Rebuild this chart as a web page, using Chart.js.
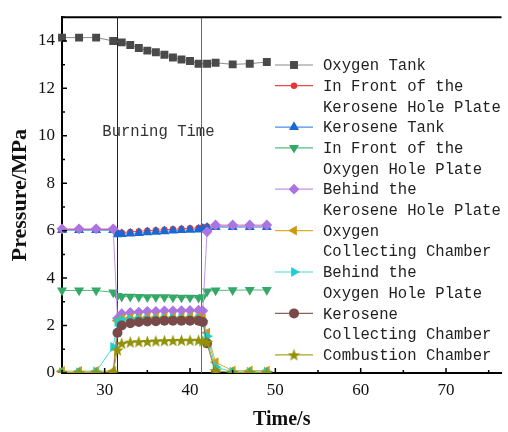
<!DOCTYPE html>
<html>
<head>
<meta charset="utf-8">
<script src="https://cdn.jsdelivr.net/npm/chart.js@4.4.1/dist/chart.umd.min.js"></script>
<style>
  html, body { margin: 0; padding: 0; background: #fff; }
  #wrap { width: 508px; height: 432px; }
</style>
</head>
<body>
<div id="wrap"><canvas id="chart" width="508" height="432"></canvas></div>
<script>
// Sample times (s); null = no sample for that series
const times = [25, 27, 29, 31, 31.5, 32, 33, 34, 35, 36, 37, 38, 39, 40, 41, 41.5, 42, 43, 45, 47, 49];

const oxygenTank      = [14.14, 14.14, 14.14, 14.0, null, 13.94, 13.83, 13.7, 13.59, 13.52, 13.42, 13.3, 13.22, 13.15, 13.04, null, 13.04, 13.08, 13.01, 13.04, 13.11];
const kerFrontPlate   = [6.05, 6.05, 6.05, 6.05, 5.92, 5.92, 5.95, 5.97, 6.0, 6.02, 6.04, 6.06, 6.08, 6.1, 6.12, 6.15, 6.18, 6.2, 6.2, 6.2, 6.2];
const keroseneTank    = [6.02, 6.02, 6.02, 6.02, 5.85, 5.86, 5.88, 5.9, 5.93, 5.95, 5.97, 6.0, 6.02, 6.03, 6.05, 6.08, 6.12, 6.15, 6.15, 6.15, 6.15];
const oxyFrontPlate   = [3.48, 3.48, 3.48, 3.4, 3.25, 3.22, 3.22, 3.21, 3.2, 3.2, 3.2, 3.19, 3.18, 3.18, 3.17, 3.2, 3.44, 3.48, 3.49, 3.5, 3.5];
const kerBehindPlate  = [6.08, 6.08, 6.08, 6.08, 2.3, 2.5, 2.55, 2.57, 2.6, 2.6, 2.62, 2.62, 2.63, 2.64, 2.65, 2.62, 5.95, 6.24, 6.24, 6.24, 6.24];
const oxyCollecting   = [0.08, 0.08, 0.08, 0.08, 2.2, 2.3, 2.33, 2.33, 2.35, 2.35, 2.35, 2.35, 2.35, 2.36, 2.36, 2.3, 1.7, 0.45, 0.1, 0.1, 0.1];
const oxyBehindPlate  = [0.03, 0.03, 0.06, 1.1, 2.15, 2.25, 2.27, 2.28, 2.28, 2.3, 2.3, 2.3, 2.3, 2.3, 2.3, 2.2, 1.55, 0.25, 0.05, 0.05, 0.05];
const kerCollecting   = [-0.15, -0.15, -0.15, -0.1, 1.7, 2.0, 2.1, 2.15, 2.17, 2.18, 2.2, 2.2, 2.2, 2.2, 2.2, 2.15, 1.25, 0.0, -0.15, -0.15, -0.15];
const combustion      = [0.02, 0.02, 0.02, 0.05, 0.97, 1.25, 1.3, 1.32, 1.33, 1.35, 1.36, 1.37, 1.38, 1.38, 1.38, 1.35, 1.3, 0.1, 0.02, 0.02, 0.02];

const seriesLabels = [
  ['Oxygen Tank'],
  ['In Front of the', 'Kerosene Hole Plate'],
  ['Kerosene Tank'],
  ['In Front of the', 'Oxygen Hole Plate'],
  ['Behind the', 'Kerosene Hole Plate'],
  ['Oxygen', 'Collecting Chamber'],
  ['Behind the', 'Oxygen Hole Plate'],
  ['Kerosene', 'Collecting Chamber'],
  ['Combustion Chamber'],
];

const xTicks = [30, 40, 50, 60, 70];
const yTicks = [0, 2, 4, 6, 8, 10, 12, 14];
const burnStart = 31.5;
const burnEnd = 41.25;

// filled five-point star used as a point style
function starImage(color, r) {
  const c = document.createElement('canvas');
  c.width = c.height = Math.ceil(r * 2 + 2);
  const g = c.getContext('2d');
  const cx = c.width / 2, cy = c.height / 2 + 0.6;
  g.fillStyle = color;
  g.beginPath();
  for (let k = 0; k < 10; k++) {
    const a = -Math.PI / 2 + k * Math.PI / 5;
    const rr = k % 2 ? r * 0.42 : r;
    g.lineTo(cx + rr * Math.cos(a), cy + rr * Math.sin(a));
  }
  g.closePath();
  g.fill();
  return c;
}

const STYLES = [
  { line: '#8a8a8a', mark: '#4a4a4a', style: 'rect', radius: 5.6, rot: 0 },
  { line: '#ee4a4a', mark: '#e83434', style: 'circle', radius: 3.2, rot: 0 },
  { line: '#4a8ee8', mark: '#1c68d2', style: 'triangle', radius: 5.8, rot: 0 },
  { line: '#55bb82', mark: '#35a867', style: 'triangle', radius: 5.8, rot: 180 },
  { line: '#bf95ea', mark: '#ac74e0', style: 'rectRot', radius: 5.4, rot: 0 },
  { line: '#dcae2c', mark: '#cc9a12', style: 'triangle', radius: 5.8, rot: -90 },
  { line: '#48dada', mark: '#1ecdcd', style: 'triangle', radius: 5.8, rot: 90 },
  { line: '#8e605e', mark: '#7a4a48', style: 'circle', radius: 5, rot: 0 },
  { line: '#a5a526', mark: '#929208', style: starImage('#929208', 6.5), radius: 6.5, rot: 0 },
];

const seriesValues = [oxygenTank, kerFrontPlate, keroseneTank, oxyFrontPlate, kerBehindPlate,
  oxyCollecting, oxyBehindPlate, kerCollecting, combustion];

const SERIF = "'Liberation Serif', 'DejaVu Serif', serif";
const MONO = "'Liberation Mono', 'DejaVu Sans Mono', monospace";

const decorPlugin = {
  id: 'decor',
  beforeDatasetsDraw(chart) {
    const { ctx, chartArea: a, scales: { x, y } } = chart;
    ctx.save();
    // burning time markers
    [[burnStart, '#222'], [burnEnd, '#6a6a6a']].forEach(([t, col]) => {
      const px = Math.round(x.getPixelForValue(t)) + 0.5;
      ctx.strokeStyle = col;
      ctx.lineWidth = 1;
      ctx.beginPath();
      ctx.moveTo(px, a.top);
      ctx.lineTo(px, a.bottom);
      ctx.stroke();
    });
    ctx.fillStyle = '#333';
    ctx.font = '15.6px ' + MONO;
    ctx.textAlign = 'center';
    ctx.textBaseline = 'middle';
    ctx.fillText('Burning Time', x.getPixelForValue(36.3), y.getPixelForValue(10.15));
    ctx.restore();
  },
  afterDraw(chart) {
    const { ctx, chartArea: a, scales: { x, y } } = chart;
    ctx.save();
    ctx.strokeStyle = '#000';
    // top frame line
    ctx.lineWidth = 2;
    ctx.beginPath();
    ctx.moveTo(a.left, a.top);
    ctx.lineTo(a.right, a.top);
    ctx.stroke();
    // inward ticks
    ctx.lineWidth = 1.5;
    ctx.beginPath();
    for (let v = 0; v <= 15; v++) {
      const py = y.getPixelForValue(v);
      const len = v % 2 === 0 ? 5 : 3;
      ctx.moveTo(a.left, py);
      ctx.lineTo(a.left + len, py);
    }
    for (let t = 25; t <= 76; t += 5) {
      const px = x.getPixelForValue(t);
      const len = t % 10 === 0 ? 5 : 3;
      ctx.moveTo(px, a.bottom);
      ctx.lineTo(px, a.bottom - len);
    }
    ctx.stroke();

    // legend
    let rowY = 65;
    const step = 20.7;
    ctx.font = '15.6px ' + MONO;
    ctx.textAlign = 'left';
    ctx.textBaseline = 'middle';
    seriesLabels.forEach((lines, i) => {
      const s = STYLES[i];
      ctx.strokeStyle = s.line;
      ctx.lineWidth = 1.2;
      ctx.beginPath();
      ctx.moveTo(275, rowY);
      ctx.lineTo(313, rowY);
      ctx.stroke();
      ctx.fillStyle = s.mark;
      if (Chart.helpers && Chart.helpers.drawPoint) {
        Chart.helpers.drawPoint(ctx, { pointStyle: s.style, radius: s.radius, rotation: s.rot, borderWidth: 0 }, 294, rowY);
      }
      ctx.fillStyle = '#222';
      lines.forEach((txt) => {
        ctx.fillText(txt, 323, rowY + 1);
        rowY += step;
      });
    });
    ctx.restore();
  },
};

new Chart(document.getElementById('chart'), {
  type: 'line',
  data: {
    datasets: seriesValues.map((vals, i) => ({
      label: seriesLabels[i].join(' '),
      data: times.map((t, k) => ({ x: t, y: vals[k] })),
      borderColor: STYLES[i].line,
      backgroundColor: STYLES[i].mark,
      pointBackgroundColor: STYLES[i].mark,
      pointBorderWidth: 0,
      pointStyle: STYLES[i].style,
      pointRadius: STYLES[i].radius,
      pointRotation: STYLES[i].rot,
      borderWidth: 1,
      tension: 0,
      spanGaps: true,
      clip: { left: 10, top: 10, right: 0, bottom: 0 },
      order: seriesValues.length - i,
    })),
  },
  options: {
    responsive: false,
    animation: false,
    layout: { padding: { top: 11, right: 0, left: 0, bottom: 0 } },
    plugins: { legend: { display: false }, tooltip: { enabled: false } },
    scales: {
      x: {
        type: 'linear',
        min: 25,
        max: 76.5,
        afterBuildTicks: (s) => { s.ticks = xTicks.map(v => ({ value: v })); },
        afterFit: (s) => { s.height = 59; },
        ticks: { color: '#111', font: { family: SERIF, size: 17 }, padding: 7, maxRotation: 0 },
        grid: { drawOnChartArea: false, drawTicks: false },
        border: { color: '#000', width: 2 },
        title: { display: true, text: 'Time/s', color: '#111', font: { family: SERIF, size: 20, weight: 'bold' }, padding: { top: 2, bottom: 0 } },
      },
      y: {
        min: 0,
        max: 15,
        afterBuildTicks: (s) => { s.ticks = yTicks.map(v => ({ value: v })); },
        afterFit: (s) => { s.width = 62; },
        ticks: { color: '#111', font: { family: SERIF, size: 17 }, padding: 7 },
        grid: { drawOnChartArea: false, drawTicks: false },
        border: { color: '#000', width: 2 },
        title: { display: true, text: 'Pressure/MPa', color: '#111', font: { family: SERIF, size: 22, weight: 'bold' }, padding: { top: 7, bottom: 0 } },
      },
    },
  },
  plugins: [decorPlugin],
});
</script>
</body>
</html>
